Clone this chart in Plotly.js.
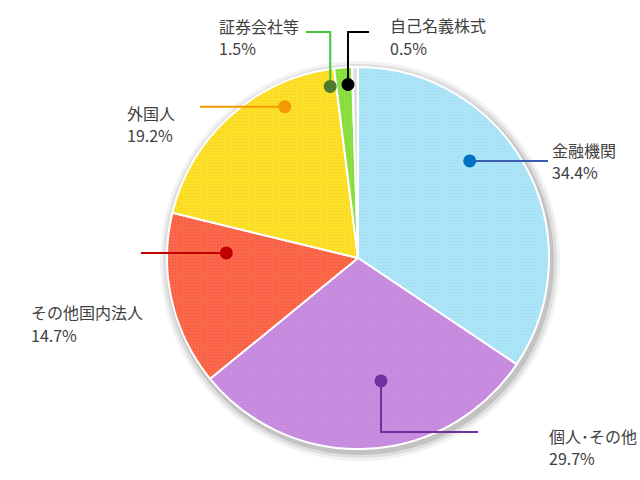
<!DOCTYPE html>
<html>
<head>
<meta charset="utf-8">
<script src="https://cdn.plot.ly/plotly-3.0.1.min.js"></script>
<style>
  html, body { margin: 0; padding: 0; background: #fff; }
  #chart { width: 640px; height: 480px; }
</style>
</head>
<body>
<div id="chart"></div>
<script>
// -----------------------------
// Data
// -----------------------------
const categories = ["金融機関", "個人・その他", "その他国内法人", "外国人", "証券会社等", "自己名義株式"];
const shares = [34.4, 29.7, 14.7, 19.2, 1.5, 0.5];

// slice fill + leader colours
const sliceColors = ["#a6e8f8", "#c48fe0", "#fc6a44", "#fde224", "#8de041", "#e4e4e4"];
const dotTint = ["#c0c8f4", "#d67ad6", "#ee4e66", "#f4c83a", "#76d436", "#d0d0d0"];
const dotColors = ["#0070c0", "#7030a0", "#c00000", "#f39800", "#4e7a2e", "#000000"];
const lineColors = ["#3a5cb0", "#7030a0", "#c00000", "#f39800", "#3fc63a", "#000000"];

// -----------------------------
// Geometry (pixels, 640x480 page)
// -----------------------------
const W = 640, H = 480;
const cx = 358, cy = 258, R = 191;

const px = (x) => x / W;
const py = (y) => 1 - y / H;

// where each leader starts (angle clockwise from 12 o'clock, fraction of radius),
// the elbow points it runs through, and where the two label lines sit
const leaders = [
  { ang: 49, rf: 0.775, path: [[548, null]], label: [551, 150, 172] },
  { ang: 169.4, rf: 0.655, path: [[null, 432], [478, 432]], label: [548, 436, 458] },
  { ang: 272.2, rf: 0.69, path: [[141, null]], label: [30, 312, 335] },
  { ang: 334.2, rf: 0.88, path: [[200, null]], label: [126, 113, 135] },
  { ang: 350.8, rf: 0.91, path: [[null, 32], [306, 32]], label: [218, 26, 48] },
  { ang: 356.7, rf: 0.91, path: [[null, 32], [369, 32]], label: [389, 25, 48] }
];

function pieDomain(r, dx = 0, dy = 0) {
  return {
    x: [px(cx + dx - r), px(cx + dx + r)],
    y: [py(cy + dy + r), py(cy + dy - r)]
  };
}

// soft shadow rings under the pie
const shadowTraces = [
  { r: R + 9, op: 0.05 },
  { r: R + 6, op: 0.08 },
  { r: R + 3, op: 0.12 }
].map((s) => ({
  type: "pie",
  values: [1],
  labels: ["shadow"],
  sort: false,
  textinfo: "none",
  hoverinfo: "skip",
  showlegend: false,
  marker: { colors: ["rgba(0,0,0," + s.op + ")"], line: { width: 0 } },
  domain: pieDomain(s.r, 2, 3)
}));

const pieTrace = {
  type: "pie",
  labels: categories,
  values: shares,
  sort: false,
  direction: "clockwise",
  rotation: 0,
  textinfo: "none",
  hoverinfo: "label+percent",
  showlegend: false,
  marker: {
    colors: sliceColors,
    line: { color: "#ffffff", width: 2 },
    pattern: {
      shape: ".",
      bgcolor: sliceColors,
      fgcolor: dotTint,
      size: 3,
      solidity: 0.15
    }
  },
  domain: pieDomain(R)
};

// -----------------------------
// Leader lines, dots, labels
// -----------------------------
const shapes = [];
const annotations = [];
const labelFont = { family: "Noto Sans CJK JP, sans-serif", size: 16, color: "#404040" };

leaders.forEach((l, i) => {
  const a = (l.ang * Math.PI) / 180;
  const x0 = cx + Math.sin(a) * R * l.rf;
  const y0 = cy - Math.cos(a) * R * l.rf;

  let prev = [x0, y0];
  let d = "M" + px(x0) + "," + py(y0);
  l.path.forEach((p) => {
    const nx = p[0] === null ? prev[0] : p[0];
    const ny = p[1] === null ? prev[1] : p[1];
    d += " L" + px(nx) + "," + py(ny);
    prev = [nx, ny];
  });

  shapes.push({
    type: "path",
    xref: "paper", yref: "paper",
    path: d,
    line: { color: lineColors[i], width: 2 },
    layer: "above"
  });

  const dr = 6.5;
  shapes.push({
    type: "circle",
    xref: "paper", yref: "paper",
    x0: px(x0 - dr), x1: px(x0 + dr),
    y0: py(y0 + dr), y1: py(y0 - dr),
    fillcolor: dotColors[i],
    line: { width: 0 },
    layer: "above"
  });

  // the reference uses the narrow (half-width) middle dot
  const name = categories[i].replace("・", "･");
  annotations.push({
    xref: "paper", yref: "paper",
    x: px(l.label[0]), y: py(l.label[1]),
    xanchor: "left", yanchor: "middle",
    showarrow: false, borderpad: 0,
    text: name,
    font: labelFont
  });
  annotations.push({
    xref: "paper", yref: "paper",
    x: px(l.label[0]), y: py(l.label[2]),
    xanchor: "left", yanchor: "middle",
    showarrow: false, borderpad: 0,
    text: shares[i].toFixed(1) + "%",
    font: labelFont
  });
});

Plotly.newPlot("chart", [...shadowTraces, pieTrace], {
  width: W,
  height: H,
  margin: { l: 0, r: 0, t: 0, b: 0 },
  paper_bgcolor: "#ffffff",
  shapes: shapes,
  annotations: annotations
}, { displayModeBar: false, staticPlot: true });
</script>
</body>
</html>
